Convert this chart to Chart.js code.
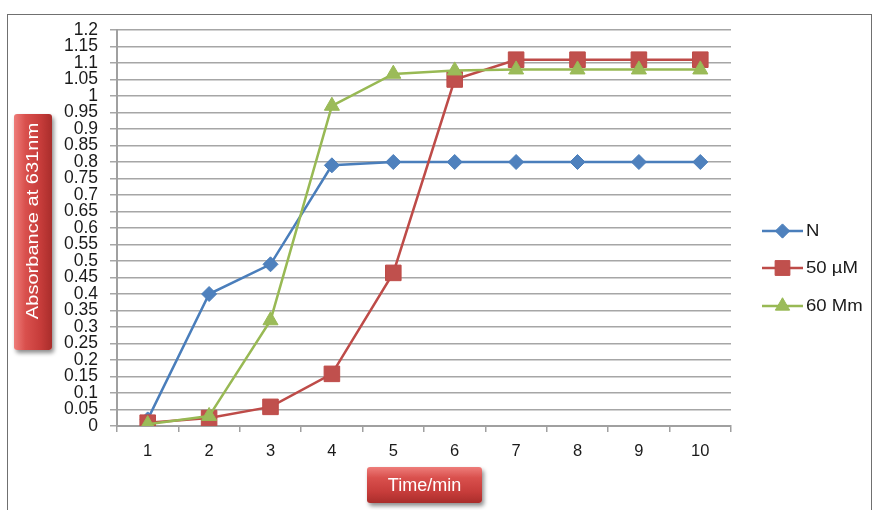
<!DOCTYPE html>
<html>
<head>
<meta charset="utf-8">
<title>Absorbance at 631nm over time</title>
<script src="https://cdn.jsdelivr.net/npm/chart.js@4/dist/chart.umd.min.js"></script>
<style>
  html, body { margin: 0; padding: 0; background: #fff; }
  #wrap { position: relative; width: 878px; height: 510px; overflow: hidden; }
  #frame { position: absolute; left: 7px; top: 14px; width: 865px; height: 530px;
           border: 1px solid #707070; box-sizing: border-box; }
  #chart { position: absolute; left: 0; top: 0; }
  .tbox { position: absolute; color: #fff; font-family: "Liberation Sans", Arial, sans-serif;
          display: flex; align-items: center; justify-content: center;
          border-radius: 3px; box-shadow: 2px 3px 4px rgba(0,0,0,0.45); }
  #ytitle { left: 14px; top: 114px; width: 38px; height: 236px; font-size: 17px;
            background: linear-gradient(to right, #ee7d7a 0%, #d9504d 30%, #c63c3a 70%, #a92d2b 100%); }
  #ytitle span { transform: rotate(-90deg) translateX(11px) scaleX(1.18); white-space: nowrap; }
  #xtitle { left: 367px; top: 467px; width: 115px; height: 36px; font-size: 18px;
            background: linear-gradient(to bottom, #ee7d7a 0%, #d9504d 30%, #c63c3a 70%, #a92d2b 100%); }
</style>
</head>
<body>
<div id="wrap">
  <div id="frame"></div>
  <canvas id="chart" width="878" height="510"></canvas>
  <div class="tbox" id="ytitle"><span>Absorbance at 631nm</span></div>
  <div class="tbox" id="xtitle"><span>Time/min</span></div>
</div>
<script>
// Time points (min)
const times = ['1', '2', '3', '4', '5', '6', '7', '8', '9', '10'];

// Absorbance readings at 631 nm
const absN    = [0.02, 0.40, 0.49, 0.79, 0.80, 0.80, 0.80, 0.80, 0.80, 0.80];
const abs50uM = [0.01, 0.024, 0.058, 0.158, 0.464, 1.05, 1.11, 1.11, 1.11, 1.11];
const abs60Mm = [0.005, 0.03, 0.32, 0.97, 1.067, 1.077, 1.08, 1.08, 1.08, 1.08];

const seriesNames = ['N', '50 \u00b5M', '60 Mm'];

const FONT = '"Liberation Sans", Arial, sans-serif';

// Side legend: line segment with marker, then the series name
const sideLegend = {
  id: 'sideLegend',
  afterDraw(chart) {
    const ctx = chart.ctx;
    const area = chart.chartArea;
    const x0 = area.right + 31, x1 = area.right + 72, xm = (x0 + x1) / 2;
    const rows = [231, 268, 306];
    chart.data.datasets.forEach((ds, i) => {
      const y = rows[i];
      ctx.save();
      ctx.strokeStyle = ds.borderColor;
      ctx.lineWidth = ds.borderWidth;
      ctx.beginPath();
      ctx.moveTo(x0, y);
      ctx.lineTo(x1, y);
      ctx.stroke();
      ctx.fillStyle = ds.pointBackgroundColor;
      ctx.strokeStyle = ds.pointBorderColor;
      ctx.lineWidth = 1;
      Chart.helpers.drawPoint(ctx, {
        pointStyle: ds.pointStyle, rotation: 0,
        radius: ds.pointRadius * 0.95, borderWidth: 1
      }, xm, y);
      ctx.fillStyle = '#1a1a1a';
      ctx.font = '16px ' + FONT;
      ctx.textBaseline = 'middle';
      ctx.textAlign = 'left';
      ctx.translate(x1 + 3, y + 1);
      ctx.scale(1.16, 1);
      ctx.fillText(ds.label, 0, 0);
      ctx.restore();
    });
  }
};

new Chart(document.getElementById('chart'), {
  type: 'line',
  data: {
    labels: times,
    datasets: [
      {
        label: seriesNames[0], data: absN, order: 2,
        borderColor: '#4a7ebb', borderWidth: 2.5,
        pointStyle: 'rectRot', pointRadius: 7.5,
        pointBackgroundColor: '#4f81bd', pointBorderColor: '#4a7ebb', pointBorderWidth: 1,
        tension: 0
      },
      {
        label: seriesNames[1], data: abs50uM, order: 1,
        borderColor: '#be4b48', borderWidth: 2.5,
        pointStyle: 'rect', pointRadius: 11,
        pointBackgroundColor: '#c0504d', pointBorderColor: '#be4b48', pointBorderWidth: 1,
        tension: 0
      },
      {
        label: seriesNames[2], data: abs60Mm, order: 0,
        borderColor: '#98b954', borderWidth: 2.5,
        pointStyle: 'triangle', pointRadius: 8.7,
        pointBackgroundColor: '#9bbb59', pointBorderColor: '#98b954', pointBorderWidth: 1,
        tension: 0
      }
    ]
  },
  options: {
    responsive: false,
    animation: false,
    devicePixelRatio: 1,
    layout: { padding: { left: 0, top: 30, right: 147, bottom: 0 } },
    plugins: {
      legend: { display: false },
      tooltip: { enabled: false },
      title: { display: false }
    },
    scales: {
      x: {
        type: 'category',
        offset: true,
        grid: {
          display: true, drawOnChartArea: false, drawTicks: true,
          tickLength: 6, color: '#a0a0a0', lineWidth: 1.5, offset: true
        },
        border: { display: true, color: '#a0a0a0', width: 2 },
        ticks: {
          color: '#1a1a1a', font: { family: FONT, size: 16.5 },
          padding: 10, maxRotation: 0, autoSkip: false
        },
        afterFit(scale) { scale.height = 84; }
      },
      y: {
        min: 0, max: 1.2,
        grid: { color: '#a6a6a6', lineWidth: 1.5, tickLength: 7 },
        border: { display: true, color: '#a0a0a0', width: 2 },
        ticks: {
          stepSize: 0.05, autoSkip: false, padding: 12,
          color: '#1a1a1a', font: { family: FONT, size: 17.5 },
          callback: (v) => String(Number(v.toFixed(2)))
        },
        afterFit(scale) { scale.width = 117; }
      }
    }
  },
  plugins: [sideLegend]
});
</script>
</body>
</html>
